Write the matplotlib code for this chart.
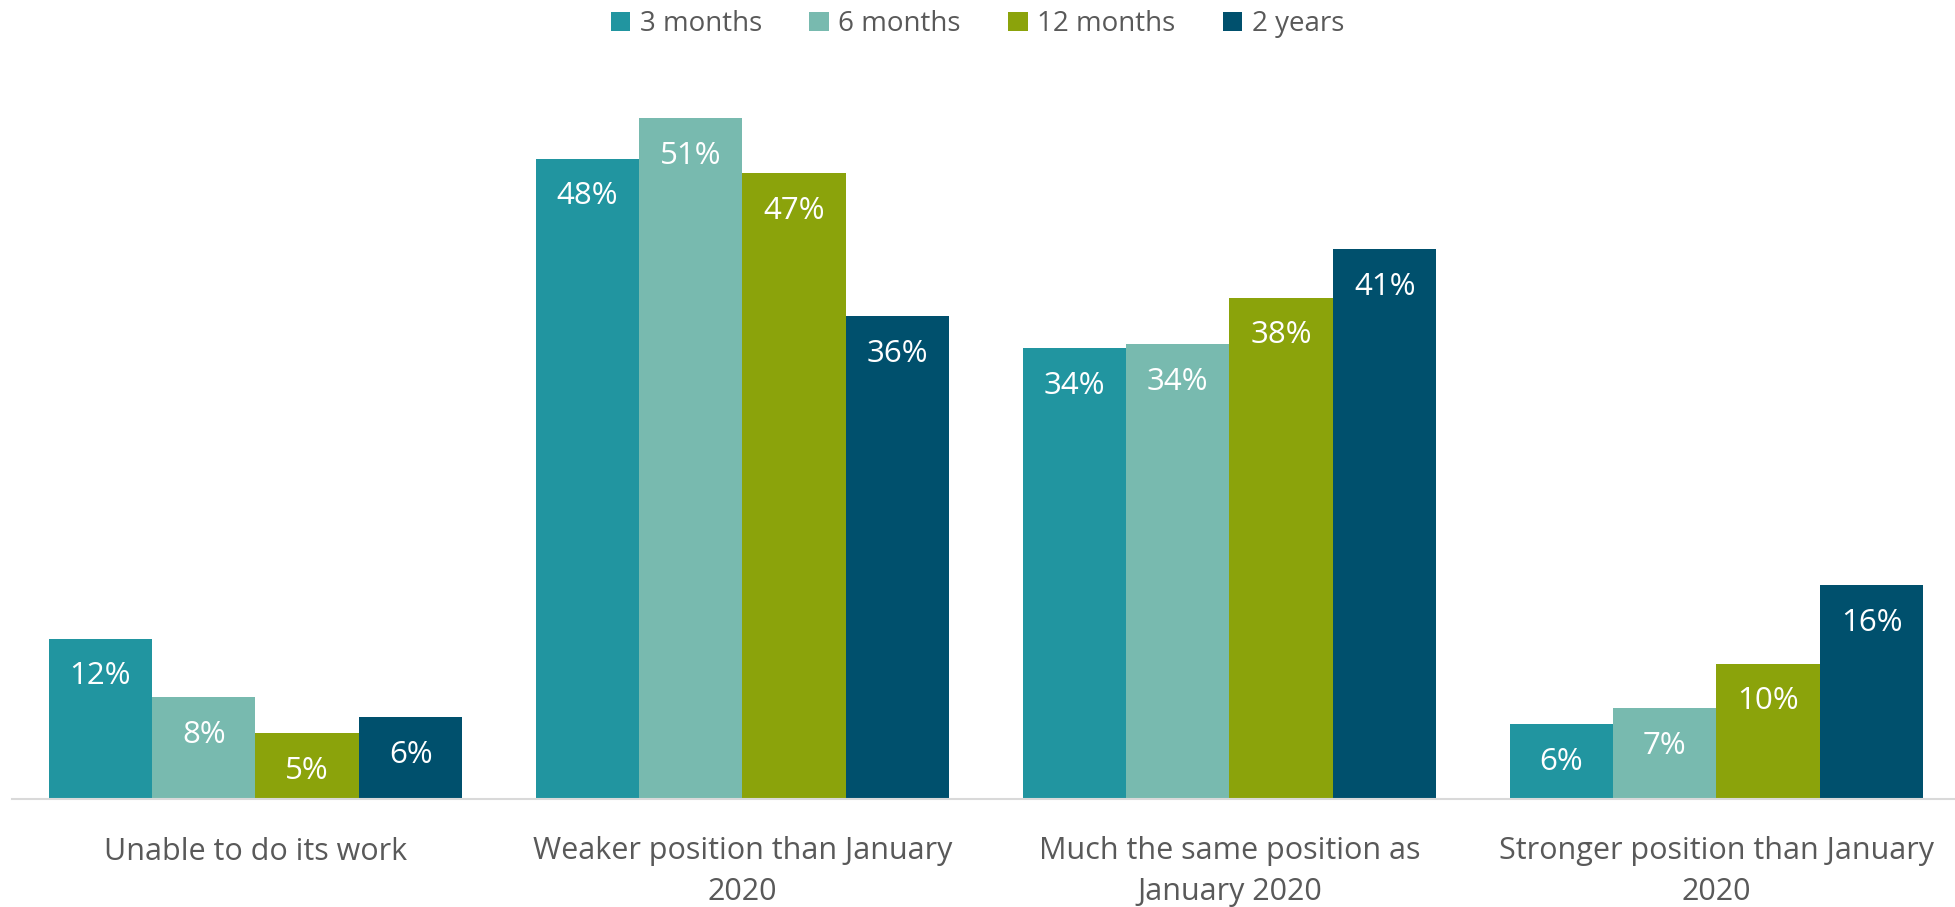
import matplotlib
matplotlib.use("Agg")
import matplotlib.pyplot as plt
import numpy as np

categories = ["Unable to do its work",
              "Weaker position than January\n2020",
              "Much the same position as\nJanuary 2020",
              "Stronger position than January\n2020"]
series_names = ["3 months", "6 months", "12 months", "2 years"]
vals_3m = [12.0, 47.9, 33.7, 5.6]
vals_6m = [7.6, 50.9, 34.0, 6.8]
vals_12m = [4.9, 46.8, 37.5, 10.1]
vals_2y = [6.1, 36.1, 41.1, 16.0]
colors = ["#2195A0", "#78BAAF", "#8BA30B", "#00506D"]

series = [vals_3m, vals_6m, vals_12m, vals_2y]

W, H = 1955, 907
dpi = 100
fig = plt.figure(figsize=(W / dpi, H / dpi), dpi=dpi)
plt.rcParams['font.family'] = ['Open Sans', 'DejaVu Sans']

left_px, right_px = 12, 1960
bottom_px, top_px = 799, 57
ax = fig.add_axes([left_px / W, (H - bottom_px) / H,
                   (right_px - left_px) / W, (bottom_px - top_px) / H])
px_per_unit = 13.37
ax.set_ylim(0, (bottom_px - top_px) / px_per_unit)
ax.set_xlim(-0.5, 3.5)

x = np.arange(len(categories))
bw = 0.2125
for i, (name, vals, c) in enumerate(zip(series_names, series, colors)):
    pos = x + (i - 1.5) * bw
    bars = ax.bar(pos, vals, width=bw, color=c, label=name, zorder=2)
    for b, v in zip(bars, vals):
        ax.annotate(f"{v:.0f}%", (b.get_x() + b.get_width() / 2, v),
                    xytext=(0, -27), textcoords="offset points",
                    ha="center", va="center", color="white", fontsize=22.5)

for s in ["top", "right", "left"]:
    ax.spines[s].set_visible(False)
ax.spines["bottom"].set_color("#D9D9D9")
ax.spines["bottom"].set_linewidth(1.5)
ax.set_yticks([])
ax.set_xticks(x)
ax.set_xticklabels(categories, fontsize=22, color="#595959", linespacing=1.45)
ax.tick_params(axis="x", length=0, pad=27)

leg = fig.legend(loc="center", bbox_to_anchor=(0.5, 1 - 24 / H), ncol=4,
                 frameon=False, fontsize=20, labelcolor="#595959",
                 handlelength=0.7, handleheight=0.7, handletextpad=0.35,
                 columnspacing=1.7)

fig.savefig("out.png", dpi=dpi)
